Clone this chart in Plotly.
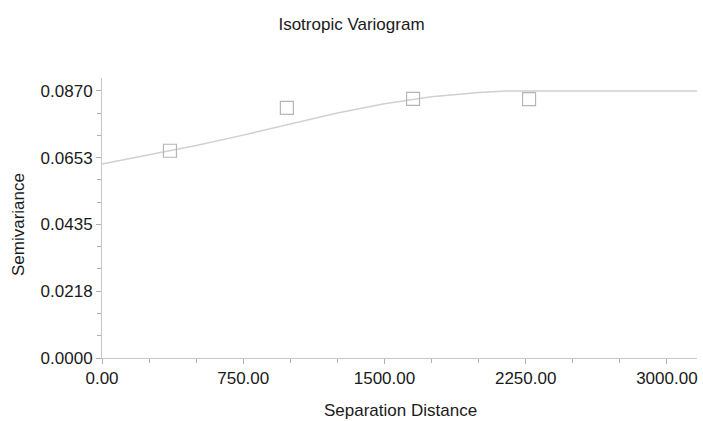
import plotly.graph_objects as go

lag_x = [361, 982, 1652, 2268]
lag_y = [0.0675, 0.0815, 0.0844, 0.0843]

# Fitted model curve
model_x = [0, 250, 500, 750, 1000, 1250, 1500, 1750, 2000, 2150, 3160]
model_y = [0.0632, 0.0662, 0.0692, 0.0726, 0.0763, 0.0798, 0.0828, 0.0851, 0.0865, 0.0870, 0.0870]

y_tickvals = [0.0, 0.02175, 0.0435, 0.06525, 0.087]
y_ticktext = ["0.0000", "0.0218", "0.0435", "0.0653", "0.0870"]

FONT = "Liberation Sans, Arial, sans-serif"
TXT = "#1a1a1a"
W, H = 703, 421
L, R, T, B = 102, 6, 78, 63

fig = go.Figure()
fig.add_trace(go.Scatter(x=model_x, y=model_y, mode="lines",
                         line=dict(color="#d0d0d0", width=1.5), hoverinfo="skip"))
fig.add_trace(go.Scatter(x=lag_x, y=lag_y, mode="markers",
                         marker=dict(symbol="square-open", size=13,
                                     color="#b5b5b5", line=dict(width=1.2, color="#b5b5b5"))))

pw, ph = W - L - R, H - T - B
fig.update_layout(
    width=W, height=H,
    margin=dict(l=L, r=R, t=T, b=B, autoexpand=False),
    paper_bgcolor="white", plot_bgcolor="white",
    showlegend=False,
    font=dict(family=FONT, size=17, color=TXT),
    title=dict(text="Isotropic Variogram", x=0.5, xanchor="center",
               y=1 - 24 / H, yanchor="middle",
               font=dict(family=FONT, size=17, color=TXT)),
    annotations=[
        dict(text="Separation Distance", xref="paper", yref="paper",
             x=(400 - L) / pw, y=-(410 - (H - B)) / ph, xanchor="center", yanchor="middle",
             showarrow=False, font=dict(family=FONT, size=17, color=TXT)),
        dict(text="Semivariance", xref="paper", yref="paper", textangle=-90,
             x=-(L - 18) / pw, y=(H - B - 225) / ph, xanchor="center", yanchor="middle",
             showarrow=False, font=dict(family=FONT, size=17, color=TXT)),
    ],
)
fig.update_xaxes(
    range=[0, 3160], tickmode="linear", tick0=0, dtick=750, tickformat=".2f",
    automargin=False,
    showgrid=False, zeroline=False, showline=True, linecolor="#c8c8c8", linewidth=1,
    ticks="outside", ticklen=5, tickcolor="#b0b0b0",
    minor=dict(dtick=250, tick0=0, ticks="outside", ticklen=4, tickcolor="#b0b0b0", showgrid=False),
    tickfont=dict(family=FONT, size=17, color=TXT),
)
fig.update_yaxes(
    range=[0, 0.0912], tickmode="array", tickvals=y_tickvals, ticktext=y_ticktext,
    automargin=False,
    showgrid=False, zeroline=False, showline=True, linecolor="#c8c8c8", linewidth=1,
    ticks="outside", ticklen=5, tickcolor="#b0b0b0",
    minor=dict(dtick=0.00725, tick0=0, ticks="outside", ticklen=4, tickcolor="#b0b0b0", showgrid=False),
    tickfont=dict(family=FONT, size=17, color=TXT),
)

fig.write_html("out.html", config={"displayModeBar": False},
               post_script="document.body.style.margin='0';document.body.style.overflow='hidden';")
